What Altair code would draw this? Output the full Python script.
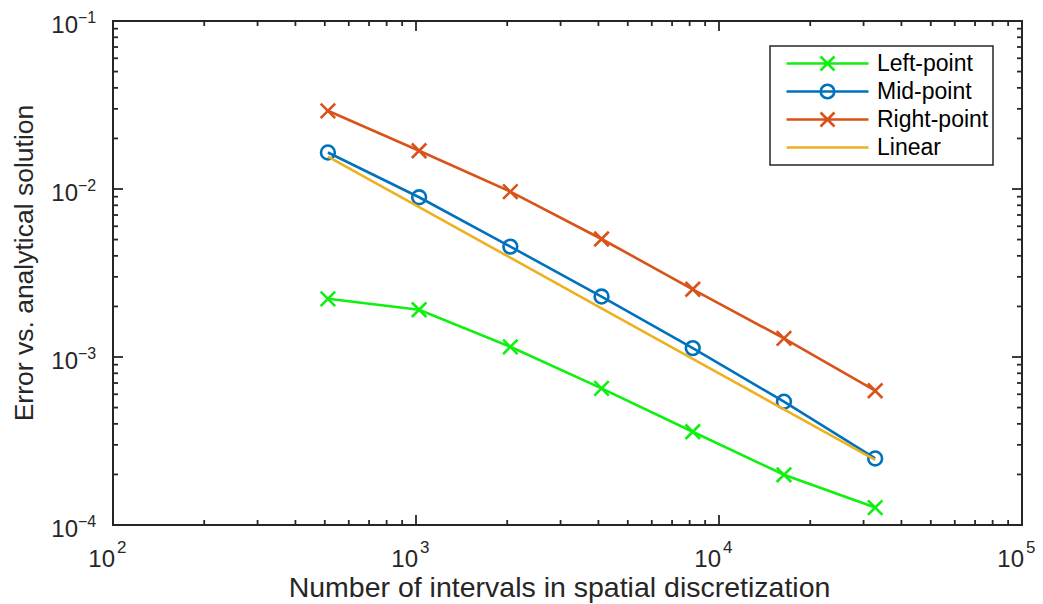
import altair as alt
import pandas as pd

# ---------------- data ----------------
N = [512, 1024, 2048, 4096, 8192, 16384, 32768]
left_point = [2.22e-3, 1.91e-3, 1.15e-3, 6.51e-4, 3.59e-4, 1.99e-4, 1.27e-4]
mid_point = [1.65e-2, 8.93e-3, 4.54e-3, 2.29e-3, 1.13e-3, 5.42e-4, 2.49e-4]
right_point = [2.92e-2, 1.69e-2, 9.64e-3, 5.04e-3, 2.53e-3, 1.29e-3, 6.30e-4]
linear = [1.56e-2, 7.8e-3, 3.9e-3, 1.95e-3, 9.75e-4, 4.88e-4, 2.44e-4]

series_names = ["Left-point", "Mid-point", "Right-point", "Linear"]
series_colors = ["#10f010", "#0072BD", "#D95319", "#EDB120"]

x_major = [1e2, 1e3, 1e4, 1e5]
x_exp = ["2", "3", "4", "5"]
y_major = [1e-4, 1e-3, 1e-2, 1e-1]
y_exp = ["\u22124", "\u22123", "\u22122", "\u22121"]
x_minor = [200, 300, 400, 500, 600, 700, 800, 900,
           2000, 3000, 4000, 5000, 6000, 7000, 8000, 9000,
           20000, 30000, 40000, 50000, 60000, 70000, 80000, 90000]
y_minor = [2e-4, 3e-4, 4e-4, 5e-4, 6e-4, 7e-4, 8e-4, 9e-4,
           2e-3, 3e-3, 4e-3, 5e-3, 6e-3, 7e-3, 8e-3, 9e-3,
           2e-2, 3e-2, 4e-2, 5e-2, 6e-2, 7e-2, 8e-2, 9e-2]

x_title = "Number of intervals in spatial discretization"
y_title = "Error vs. analytical solution"

# ---------------- layout / style ----------------
W, H = 909, 504
FONT = "Liberation Sans"
AX = "#262626"
X_PATH = "M-1,-1L1,1M-1,1L1,-1"
LEG_X = "M-1,0H1M-0.17,-0.17L0.17,0.17M-0.17,0.17L0.17,-0.17"
LEG_O = "M-1,0H1M0.165,0A0.165,0.165,0,1,1,-0.165,0A0.165,0.165,0,1,1,0.165,0"
LEG_L = "M-1,0H1"

values = [left_point, mid_point, right_point, linear]
rows = []
for name, vals in zip(series_names, values):
    for n, v in zip(N, vals):
        rows.append({"series": name, "N": n, "err": v})
df = pd.DataFrame(rows)

xscale = alt.Scale(type="log", domain=[1e2, 1e5], nice=False)
yscale = alt.Scale(type="log", domain=[1e-4, 1e-1], nice=False)
XE = alt.X("N:Q", scale=xscale, axis=None)
YE = alt.Y("err:Q", scale=yscale, axis=None)

layers = []
markers = {"Left-point": (X_PATH, 210), "Mid-point": ("circle", 190),
           "Right-point": (X_PATH, 210), "Linear": (None, 0)}
for name, col in zip(series_names, series_colors):
    sub = df[df["series"] == name]
    layers.append(alt.Chart(sub).mark_line(color=col, strokeWidth=2.6).encode(x=XE, y=YE))
    shp, sz = markers[name]
    if shp is not None:
        layers.append(alt.Chart(sub).mark_point(
            shape=shp, size=sz, filled=False, color=col, strokeWidth=2.6, opacity=1
        ).encode(x=XE, y=YE))

# legend carrier (invisible points)
leg = alt.Legend(title=None, orient="none", legendX=657, legendY=25,
                 symbolSize=6724, symbolStrokeWidth=2.6, symbolOpacity=1,
                 symbolOffset=11, clipHeight=27, rowPadding=1,
                 labelFontSize=23, labelFont=FONT, labelColor="black",
                 labelOffset=7, labelLimit=400, strokeColor=AX,
                 fillColor="white", padding=4)
layers.append(alt.Chart(df).mark_point(opacity=0, filled=False, strokeWidth=2.6).encode(
    x=XE, y=YE,
    color=alt.Color("series:N", scale=alt.Scale(domain=series_names, range=series_colors),
                    legend=leg, sort=series_names),
    shape=alt.Shape("series:N", scale=alt.Scale(domain=series_names,
                                                range=[LEG_X, LEG_O, LEG_X, LEG_L]),
                    legend=leg, sort=series_names),
))

# ---------------- inward ticks ----------------
xmaj = pd.DataFrame({"v": x_major})
xmin = pd.DataFrame({"v": x_minor})
ymaj = pd.DataFrame({"v": y_major})
ymin = pd.DataFrame({"v": y_minor})

def xticks(d, ln):
    base = alt.Chart(d).mark_rule(color=AX, strokeWidth=1.8)
    xe = alt.X("v:Q", scale=xscale, axis=None)
    return [base.encode(x=xe, y=alt.value(H), y2=alt.value(H - ln)),
            base.encode(x=xe, y=alt.value(0), y2=alt.value(ln))]

def yticks(d, ln):
    base = alt.Chart(d).mark_rule(color=AX, strokeWidth=1.8)
    ye = alt.Y("v:Q", scale=yscale, axis=None)
    return [base.encode(y=ye, x=alt.value(0), x2=alt.value(ln)),
            base.encode(y=ye, x=alt.value(W), x2=alt.value(W - ln))]

layers += xticks(xmaj, 10) + xticks(xmin, 5) + yticks(ymaj, 10) + yticks(ymin, 5)

# ---------------- tick labels with superscripts ----------------
xlab = pd.DataFrame({"v": x_major, "e": x_exp})
ylab = pd.DataFrame({"v": y_major, "e": y_exp})

layers.append(alt.Chart(xlab).mark_text(
    text="10", align="right", baseline="alphabetic", dx=2, fontSize=24, font=FONT, color=AX
).encode(x=alt.X("v:Q", scale=xscale, axis=None), y=alt.value(H + 42)))
layers.append(alt.Chart(xlab).mark_text(
    align="left", baseline="alphabetic", dx=4, fontSize=17, font=FONT, color=AX
).encode(x=alt.X("v:Q", scale=xscale, axis=None), y=alt.value(H + 28), text="e:N"))

layers.append(alt.Chart(ylab).mark_text(
    text="10", align="right", baseline="alphabetic", dy=12, fontSize=24, font=FONT, color=AX
).encode(y=alt.Y("v:Q", scale=yscale, axis=None), x=alt.value(-35)))
layers.append(alt.Chart(ylab).mark_text(
    align="left", baseline="alphabetic", dy=2, fontSize=16, font=FONT, color=AX
).encode(y=alt.Y("v:Q", scale=yscale, axis=None), x=alt.value(-35), text="e:N"))

# ---------------- axis titles ----------------
layers.append(alt.Chart(pd.DataFrame({"t": [x_title]})).mark_text(
    align="center", baseline="alphabetic", fontSize=28.5, font=FONT, color=AX
).encode(text="t:N", x=alt.value(W / 2 - 8), y=alt.value(H + 72)))
layers.append(alt.Chart(pd.DataFrame({"t": [y_title]})).mark_text(
    align="center", baseline="alphabetic", angle=270, fontSize=26.5, font=FONT, color=AX
).encode(text="t:N", x=alt.value(-80), y=alt.value(H / 2 - 10)))

chart = alt.layer(*layers).properties(
    width=W, height=H,
    autosize=alt.AutoSizeParams(type="none"),
    padding={"left": 105, "top": 13, "right": 13, "bottom": 82},
).configure_view(stroke=AX, strokeWidth=2).configure_legend(strokeWidth=1.5)

chart.save("out.html", embed_options={"renderer": "svg", "actions": False})
